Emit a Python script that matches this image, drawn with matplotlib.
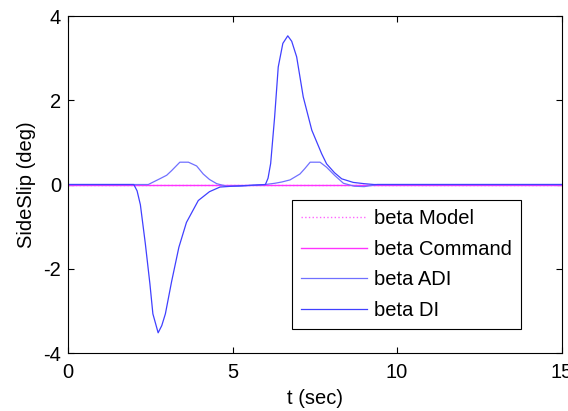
import matplotlib
matplotlib.use("Agg")
import matplotlib.pyplot as plt

# Data
t_ref = [0, 15]
beta_model = [0, 0]
beta_command = [0, 0]

t_adi = [0, 2.44, 2.8, 3.0, 3.15, 3.4, 3.66, 3.8, 3.91, 4.11, 4.3, 4.52, 4.82, 5.2, 5.6, 6.0,
         6.29, 6.5, 6.75, 7.05, 7.2, 7.36, 7.66, 7.86, 8.1, 8.37, 8.7, 9.0, 9.4, 15]
beta_adi = [0, 0, 0.14, 0.22, 0.33, 0.53, 0.53, 0.48, 0.44, 0.25, 0.12, 0.02, -0.04, -0.04, -0.02, 0,
            0.03, 0.06, 0.11, 0.25, 0.38, 0.53, 0.53, 0.41, 0.22, 0.03, -0.04, -0.05, 0, 0]

t_di = [0, 2.0, 2.1, 2.2, 2.35, 2.49, 2.58, 2.74, 2.85, 2.96, 3.15, 3.37, 3.6, 3.96, 4.3, 4.62,
        5.0, 5.5, 6.0, 6.08, 6.16, 6.28, 6.39, 6.53, 6.68, 6.8, 6.95, 7.15, 7.41, 7.71, 7.86,
        8.1, 8.32, 8.67, 9.0, 9.3, 15]
beta_di = [0, 0, -0.15, -0.48, -1.4, -2.36, -3.07, -3.52, -3.35, -3.07, -2.3, -1.49, -0.9, -0.38, -0.17, -0.06,
           -0.04, -0.02, 0, 0.15, 0.5, 1.6, 2.79, 3.35, 3.53, 3.4, 3.03, 2.08, 1.29, 0.73, 0.49,
           0.28, 0.135, 0.05, 0.02, 0, 0]

xticks = [0, 5, 10, 15]
yticks = [-4, -2, 0, 2, 4]

plt.rcParams['font.family'] = ['Liberation Sans', 'DejaVu Sans']
plt.rcParams['axes.unicode_minus'] = False

fig = plt.figure(figsize=(5.68, 4.11), dpi=100)
ax = fig.add_axes([0.1197, 0.1411, 0.8689, 0.8199])

ax.plot(t_ref, beta_model, color='#ff66ff', lw=1.0, ls=':', label='beta Model')
ax.plot(t_ref, beta_command, color='#ff33ff', lw=1.0, label='beta Command')
ax.plot(t_adi, beta_adi, color='#7070ff', lw=0.9, label='beta ADI')
ax.plot(t_di, beta_di, color='#4040ff', lw=0.9, label='beta DI')

ax.set_xlim(0, 15)
ax.set_ylim(-4, 4)
ax.set_xticks(xticks)
ax.set_yticks(yticks)
ax.tick_params(direction='in', top=True, right=True, labelsize=14.5, length=4, width=0.8)
ax.tick_params(axis='x', pad=7)
ax.tick_params(axis='y', pad=5)
for s in ax.spines.values():
    s.set_linewidth(0.8)
ax.set_xlabel('t (sec)', fontsize=14.5, labelpad=5)
ax.set_ylabel('SideSlip (deg)', fontsize=14.5, labelpad=5)

leg = ax.legend(loc='upper left', bbox_to_anchor=(0.453, 0.454), fontsize=14.5,
                frameon=True, fancybox=False, edgecolor='black', framealpha=1,
                handlelength=3.3, handletextpad=0.35, borderpad=0.45,
                labelspacing=0.58, borderaxespad=0)
leg.get_frame().set_linewidth(0.8)

fig.savefig('out.png', dpi=100)
